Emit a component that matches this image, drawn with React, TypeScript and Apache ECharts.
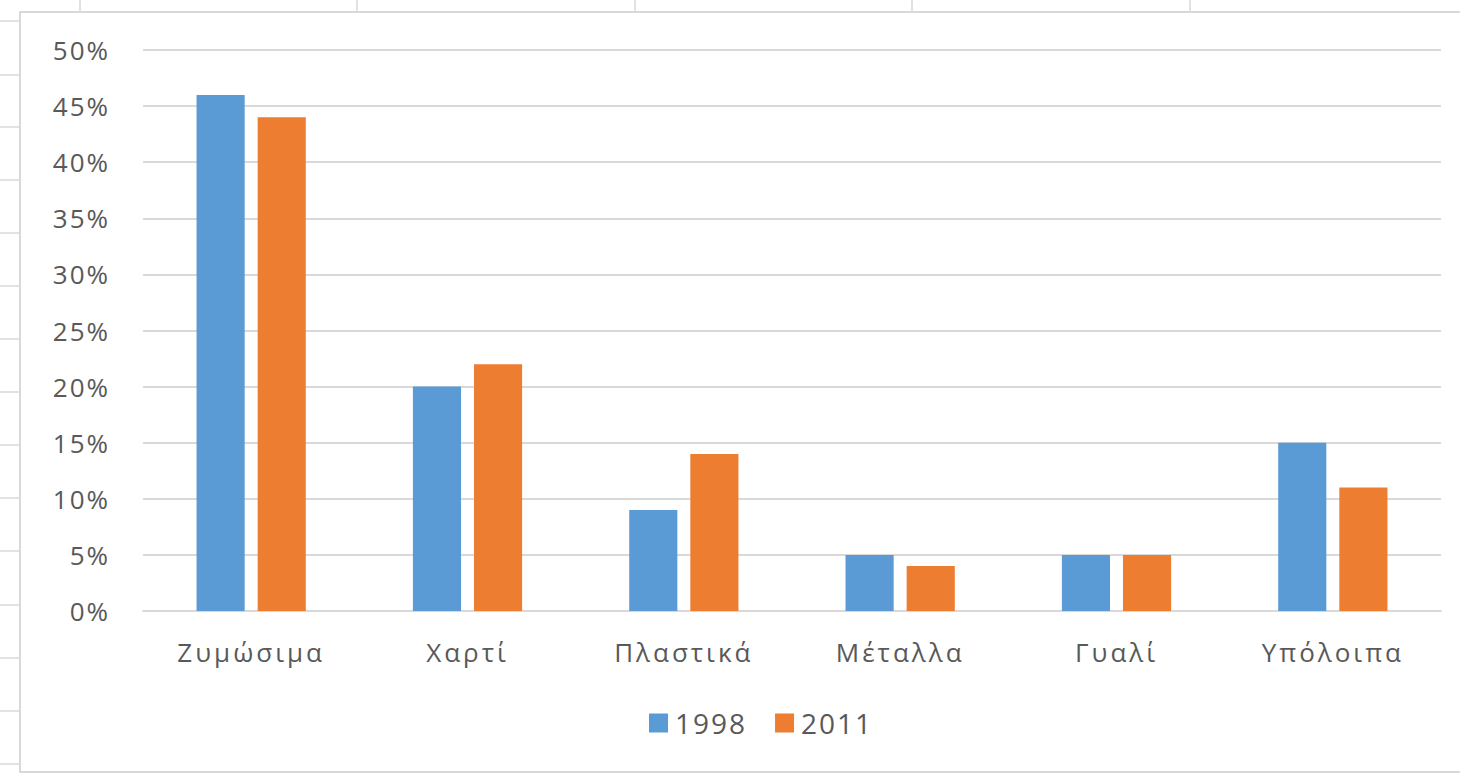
import React, { useEffect, useRef } from "react";
import * as echarts from "echarts";

// Waste composition by material, share of total (%)
const categories = ["Ζυμώσιμα", "Χαρτί", "Πλαστικά", "Μέταλλα", "Γυαλί", "Υπόλοιπα"];
const values1998 = [46, 20, 9, 5, 5, 15];
const values2011 = [44, 22, 14, 4, 5, 11];
const seriesNames = ["1998", "2011"];

const FONT = "'Open Sans', 'DejaVu Sans', sans-serif";
const TEXT = "#595959";
const LINE = "#d9d9d9";

// Worksheet cell lines around the embedded chart
const columnEdges = [80, 357, 635, 912, 1190];
const rowEdges = [21, 75, 127, 180, 233, 286, 339, 392, 445, 498, 551, 605, 658, 711, 764];

// Office-style tracking for the chart's labels
const labelCss = `
.waste-chart svg text[text-anchor="middle"] { letter-spacing: 3px; }
.waste-chart svg text[text-anchor="end"] { letter-spacing: 2px; }
.waste-chart svg text[text-anchor="start"] { letter-spacing: 2px; }
`;

export default function App() {
  const ref = useRef<HTMLDivElement>(null);

  useEffect(() => {
    if (!ref.current) return;
    const chart = echarts.init(ref.current, undefined, { renderer: "svg" });

    const sheet: any[] = [];
    columnEdges.forEach((x) =>
      sheet.push({
        type: "line",
        shape: { x1: x, y1: 0, x2: x, y2: 12 },
        style: { stroke: LINE, lineWidth: 1.5 },
        silent: true,
      })
    );
    rowEdges.forEach((y) =>
      sheet.push({
        type: "line",
        shape: { x1: 0, y1: y, x2: 19, y2: y },
        style: { stroke: LINE, lineWidth: 1.5 },
        silent: true,
      })
    );
    // chart frame
    sheet.push({
      type: "polyline",
      shape: { points: [[1470, 12], [20, 12], [20, 772], [1470, 772]] },
      style: { stroke: LINE, lineWidth: 2, fill: "none" },
      silent: true,
    });

    chart.setOption({
      animation: false,
      backgroundColor: "#ffffff",
      textStyle: { fontFamily: FONT },
      graphic: sheet,
      grid: { left: 143, right: 19, top: 50, bottom: 164, containLabel: false },
      legend: {
        data: seriesNames,
        left: 644,
        top: 704,
        itemWidth: 19,
        itemHeight: 19,
        itemGap: 36,
        icon: "rect",
        textStyle: { color: TEXT, fontSize: 28, fontFamily: FONT, padding: [0, 0, 0, 2] },
      },
      xAxis: {
        type: "category",
        data: categories,
        axisTick: { show: false },
        axisLine: { lineStyle: { color: LINE, width: 2 } },
        axisLabel: { color: TEXT, fontSize: 26, margin: 28, fontFamily: FONT },
      },
      yAxis: {
        type: "value",
        min: 0,
        max: 50,
        interval: 5,
        axisLine: { show: false },
        axisTick: { show: false },
        splitLine: { lineStyle: { color: LINE, width: 2 } },
        axisLabel: { color: TEXT, fontSize: 26, margin: 33, formatter: "{value}%", fontFamily: FONT },
      },
      series: [
        {
          name: seriesNames[0],
          type: "bar",
          data: values1998,
          itemStyle: { color: "#5b9bd5" },
          barGap: "27%",
          barCategoryGap: "49.5%",
        },
        {
          name: seriesNames[1],
          type: "bar",
          data: values2011,
          itemStyle: { color: "#ed7d31" },
        },
      ],
    });

    return () => chart.dispose();
  }, []);

  return (
    <>
      <style>{labelCss}</style>
      <div
        ref={ref}
        className="waste-chart"
        style={{ position: "fixed", left: 0, top: 0, width: 1460, height: 775, background: "#fff" }}
      />
    </>
  );
}
